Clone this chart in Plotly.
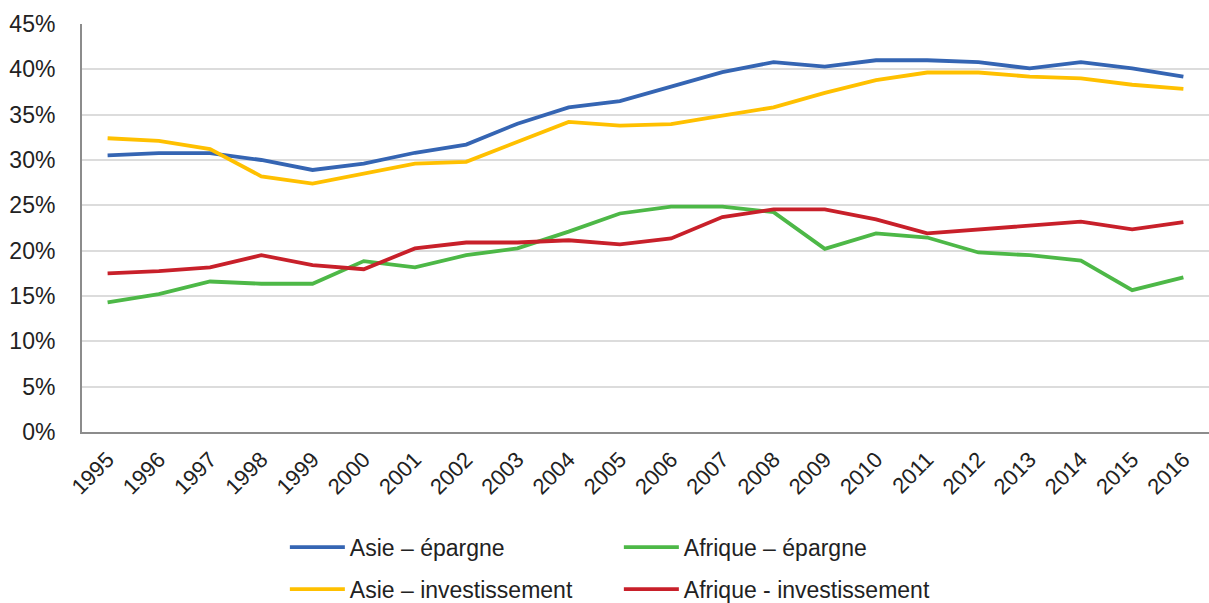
import plotly.graph_objects as go

years = [str(y) for y in range(1995, 2017)]

asie_epargne = [30.5, 30.75, 30.75, 30.0, 28.9, 29.6, 30.8, 31.7, 34.0, 35.8, 36.5, 38.1,
                39.7, 40.8, 40.3, 41.0, 41.0, 40.8, 40.1, 40.8, 40.1, 39.2]
asie_invest = [32.4, 32.1, 31.2, 28.2, 27.4, 28.5, 29.6, 29.8, 32.0, 34.2, 33.8, 33.95,
               34.9, 35.8, 37.4, 38.8, 39.65, 39.65, 39.2, 39.0, 38.3, 37.85]
afrique_epargne = [14.3, 15.2, 16.6, 16.35, 16.35, 18.85, 18.15, 19.5, 20.25, 22.1, 24.1, 24.85,
                   24.85, 24.25, 20.2, 21.9, 21.45, 19.8, 19.5, 18.9, 15.65, 17.05]
afrique_invest = [17.5, 17.75, 18.15, 19.5, 18.4, 17.95, 20.25, 20.9, 20.9, 21.15, 20.7, 21.35,
                  23.7, 24.55, 24.55, 23.45, 21.9, 22.35, 22.75, 23.2, 22.35, 23.15]

y_ticks = list(range(0, 50, 5))
y_tick_labels = [f"{v}%" for v in y_ticks]

FONT = "Liberation Sans, Arial, Helvetica, sans-serif"

fig = go.Figure()
fig.add_trace(go.Scatter(x=years, y=asie_epargne, mode="lines", name="Asie – épargne",
                         line=dict(color="#3565B3", width=3.8), legend="legend"))
fig.add_trace(go.Scatter(x=years, y=afrique_epargne, mode="lines", name="Afrique – épargne",
                         line=dict(color="#4DB847", width=3.8), legend="legend"))
fig.add_trace(go.Scatter(x=years, y=asie_invest, mode="lines", name="Asie – investissement",
                         line=dict(color="#FFC000", width=3.8), legend="legend2"))
fig.add_trace(go.Scatter(x=years, y=afrique_invest, mode="lines", name="Afrique - investissement",
                         line=dict(color="#C8202A", width=3.8), legend="legend2"))

legend_common = dict(orientation="h", xanchor="left", yanchor="middle",
                     font=dict(family=FONT, size=23, color="#222222"),
                     bgcolor="rgba(0,0,0,0)", entrywidth=264, entrywidthmode="pixels",
                     itemwidth=55, tracegroupgap=0)

fig.update_layout(
    width=1209, height=603,
    margin=dict(l=82, r=0, t=24, b=171, autoexpand=False),
    paper_bgcolor="white", plot_bgcolor="white",
    font=dict(family=FONT, size=20, color="#222222"),
    showlegend=True,
    legend=dict(x=0.18, y=-0.2825, **legend_common),
    legend2=dict(x=0.18, y=-0.385, **legend_common),
    xaxis=dict(
        type="category", range=[-0.5, 21.5], showgrid=False, automargin=False,
        showline=True, linecolor="#8C8C8C", linewidth=2,
        tickangle=-45, tickfont=dict(family=FONT, size=22, color="#222222"),
        ticks="", ticklabelstandoff=4,
    ),
    yaxis=dict(
        range=[0, 45], tickvals=y_ticks, ticktext=y_tick_labels, automargin=False,
        showgrid=True, gridcolor="#DCDCDC", gridwidth=2,
        showline=True, linecolor="#8C8C8C", linewidth=2,
        tickfont=dict(family=FONT, size=23, color="#222222"),
        ticks="", ticklabelstandoff=20, zeroline=False,
    ),
)

fig.write_html("out.html", config={"displayModeBar": False},
               post_script="document.body.style.margin='0';document.body.style.overflow='hidden';")
